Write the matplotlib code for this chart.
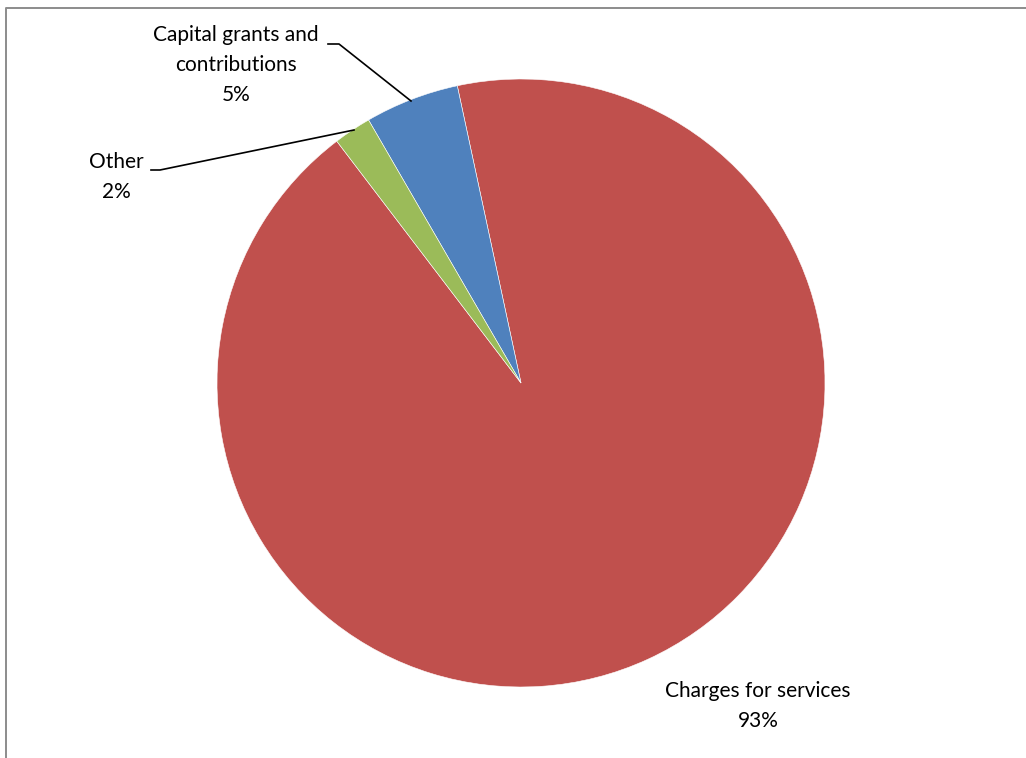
import matplotlib.pyplot as plt

labels = ["Charges for services", "Capital grants and\ncontributions", "Other"]
shares = [93, 5, 2]
colors = ["#C0504D", "#4F81BD", "#9BBB59"]

W, H = 1026, 758
fig = plt.figure(figsize=(W / 100, H / 100), dpi=100)
ax = fig.add_axes([0, 0, 1, 1])

# pie in pixel coordinates (y measured up from bottom)
cx, cy, r = 521, H - 383, 304
ax.pie(shares, colors=colors, startangle=127.3, counterclock=True,
       center=(cx, cy), radius=r, frame=True,
       wedgeprops=dict(edgecolor="white", linewidth=0.4))
ax.set_xlim(0, W)
ax.set_ylim(0, H)
ax.axis("off")

# outer chart border (gray, left and top visible)
ax.plot([5.5, 5.5, W + 5], [-5, H - 8, H - 8], color="#8c8c8c", lw=1.4,
        clip_on=False)

fnt = dict(family=["Lato", "DejaVu Sans"], fontsize=15, color="black",
           ha="center", va="center", linespacing=1.6)
ax.text(236, H - 65, f"{labels[1]}\n{shares[1]}%", **fnt)
ax.text(116, H - 177, f"{labels[2]}\n{shares[2]}%", **fnt)
ax.text(758, H - 706, f"{labels[0]}\n{shares[0]}%", **fnt)

# leader lines
ax.plot([328, 339, 411], [H - 44, H - 44, H - 101], color="black", lw=1.2)
ax.plot([151, 160, 354], [H - 170, H - 170, H - 130], color="black", lw=1.2)

fig.savefig("out.png", dpi=100)
